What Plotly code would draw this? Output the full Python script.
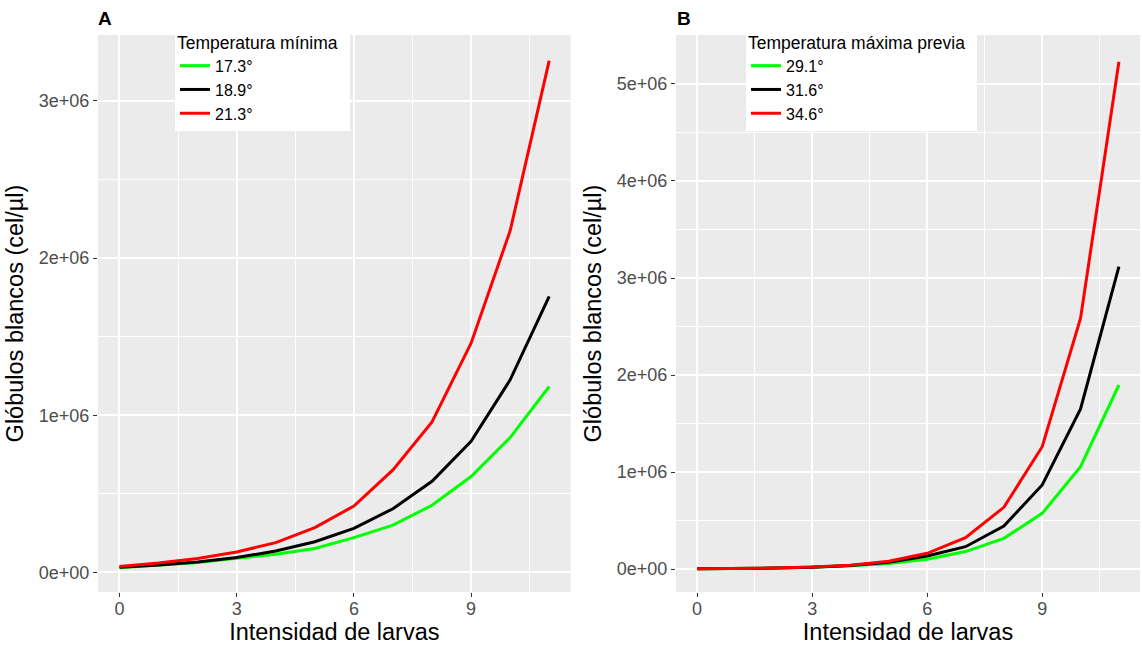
import plotly.graph_objects as go

# ---------------- data ----------------
larvas = [0, 1, 2, 3, 4, 5, 6, 7, 8, 9, 10, 11]

# Panel A: Temperatura mínima
a_labels = ["17.3°", "18.9°", "21.3°"]
a_173 = [30000, 45000, 62000, 89000, 115000, 152000, 221000, 301000, 427000, 610000, 858000, 1183000]
a_189 = [33000, 47000, 66000, 94000, 136000, 195000, 280000, 405000, 580000, 834000, 1225000, 1756000]
a_213 = [38000, 60000, 88000, 130000, 189000, 285000, 422000, 652000, 957000, 1459000, 2174000, 3257000]

# Panel B: Temperatura máxima previa
b_labels = ["29.1°", "31.6°", "34.6°"]
b_291 = [3000, 5000, 9000, 17000, 33000, 58000, 100000, 180000, 316000, 574000, 1055000, 1897000]
b_316 = [3000, 5000, 10000, 19000, 36000, 70000, 134000, 230000, 443000, 866000, 1650000, 3117000]
b_346 = [2500, 5000, 10000, 20000, 40000, 81000, 162000, 323000, 636000, 1261000, 2585000, 5230000]

x_tickvals = [0, 3, 6, 9]
x_ticktext = ["0", "3", "6", "9"]
a_y_tickvals = [0, 1e6, 2e6, 3e6]
a_y_ticktext = ["0e+00", "1e+06", "2e+06", "3e+06"]
b_y_tickvals = [0, 1e6, 2e6, 3e6, 4e6, 5e6]
b_y_ticktext = ["0e+00", "1e+06", "2e+06", "3e+06", "4e+06", "5e+06"]

colors = ["#00FF00", "#000000", "#FF0000"]

FONT = "Liberation Sans, Arial, sans-serif"

fig = go.Figure()

for vals, lab, col in zip([a_173, a_189, a_213], a_labels, colors):
    fig.add_trace(go.Scatter(x=larvas, y=vals, mode="lines", name=lab,
                             line=dict(color=col, width=3),
                             xaxis="x", yaxis="y", legend="legend"))
for vals, lab, col in zip([b_291, b_316, b_346], b_labels, colors):
    fig.add_trace(go.Scatter(x=larvas, y=vals, mode="lines", name=lab,
                             line=dict(color=col, width=3),
                             xaxis="x2", yaxis="y2", legend="legend2"))

def xaxis(domain, anchor):
    return dict(domain=domain, anchor=anchor, range=[-0.55, 11.55],
                tickvals=x_tickvals, ticktext=x_ticktext,
                showgrid=True, gridcolor="white", gridwidth=1.6,
                zeroline=False, showline=False,
                ticks="outside", ticklen=4, tickcolor="#333333", tickwidth=1,
                ticklabelstandoff=-4,
                tickfont=dict(size=18, color="#4D4D4D", family=FONT),
                minor=dict(tick0=0, dtick=1.5, showgrid=True, gridcolor="white",
                           gridwidth=0.9, ticks=""),
                title=dict(text="Intensidad de larvas", standoff=4,
                           font=dict(size=23.5, color="black", family=FONT)))

def yaxis(anchor, rng, tv, tt):
    return dict(domain=[0, 1], anchor=anchor, range=rng,
                tickvals=tv, ticktext=tt,
                showgrid=True, gridcolor="white", gridwidth=1.6,
                zeroline=False, showline=False,
                ticks="outside", ticklen=4, tickcolor="#333333", tickwidth=1,
                tickfont=dict(size=18, color="#4D4D4D", family=FONT),
                minor=dict(tick0=0, dtick=5e5, showgrid=True, gridcolor="white",
                           gridwidth=0.9, ticks=""),
                title=dict(text="Glóbulos blancos (cel/µl)", standoff=8,
                           font=dict(size=23.5, color="black", family=FONT)))

L, R, T, B = 98, 2, 35, 56
W, H = 1142, 648
pw = W - L - R
ph = H - T - B

def px_x(p):
    return (p - L) / pw

def px_y(p):
    return 1 - (p - T) / ph

legend_common = dict(bgcolor="white", borderwidth=0,
                     font=dict(size=16, color="black", family=FONT),
                     xanchor="left", yanchor="top", tracegroupgap=0,
                     itemwidth=30)

fig.update_layout(
    width=W, height=H,
    margin=dict(l=L, r=R, t=T, b=B),
    paper_bgcolor="white",
    plot_bgcolor="#EBEBEB",
    font=dict(family=FONT),
    xaxis=xaxis([0, px_x(570.7)], "y"),
    yaxis=yaxis("x", [-0.125e6, 3.42e6], a_y_tickvals, a_y_ticktext),
    xaxis2=xaxis([px_x(676), 1], "y2"),
    yaxis2=yaxis("x2", [-0.237e6, 5.505e6], b_y_tickvals, b_y_ticktext),
    legend=dict(x=px_x(175), y=px_y(26),
                title=dict(text="Temperatura mínima  ",
                           font=dict(size=17.5, color="black", family=FONT)),
                **legend_common),
    legend2=dict(x=px_x(746), y=px_y(26),
                 title=dict(text="Temperatura máxima previa  ",
                            font=dict(size=17.5, color="black", family=FONT)),
                 **legend_common),
    annotations=[
        dict(text="<b>A</b>", xref="paper", yref="paper", x=px_x(96), y=px_y(18),
             xanchor="left", yanchor="middle", showarrow=False,
             font=dict(size=19, color="black", family=FONT)),
        dict(text="<b>B</b>", xref="paper", yref="paper", x=px_x(675), y=px_y(18),
             xanchor="left", yanchor="middle", showarrow=False,
             font=dict(size=19, color="black", family=FONT)),
    ],
)

fig.write_html("out.html", config={"displayModeBar": False},
               post_script="document.body.style.margin='0';")
